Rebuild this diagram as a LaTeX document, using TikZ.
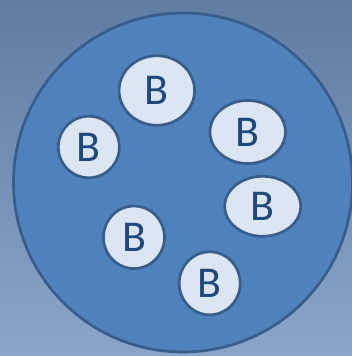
\documentclass[tikz,border=0pt]{standalone}
\usepackage{fontspec}
\setmainfont{Carlito}
\definecolor{bgtop}{HTML}{5F7CA3}
\definecolor{bgbot}{HTML}{8AA5C9}
\definecolor{cellfill}{HTML}{4F81BD}
\definecolor{cellline}{HTML}{385D8A}
\definecolor{bfill}{HTML}{DCE6F2}
\definecolor{btext}{HTML}{1F497D}
\tikzset{
  bac/.style={ellipse, draw=cellline, line width=2.7pt, fill=bfill, inner sep=0pt,
    text=btext, font=\fontsize{44}{44}\selectfont},
}
\usetikzlibrary{shapes.geometric}
\begin{document}
\begin{tikzpicture}[x=1pt,y=-1pt]
\shade[top color=bgtop, bottom color=bgbot] (0,0) rectangle (352,356);
\useasboundingbox (0,0) rectangle (352,356);
\node[circle, draw=cellline, line width=2.7pt, fill=cellfill, minimum size=339pt, inner sep=0pt] (cell) at (183,182.5) {};
\node[bac, minimum width=75.5pt, minimum height=69.5pt] (b1) at (156.8,90.5) {B};
\node[bac, minimum width=61pt, minimum height=61.5pt] (b2) at (88.8,147) {B};
\node[bac, minimum width=75.5pt, minimum height=63pt] (b3) at (247.7,132) {B};
\node[bac, minimum width=76pt, minimum height=60pt] (b4) at (262.7,206.3) {B};
\node[bac, minimum width=61pt, minimum height=62.5pt] (b5) at (134,237.3) {B};
\node[bac, minimum width=61pt, minimum height=63pt] (b6) at (209.7,283.3) {B};
\end{tikzpicture}
\end{document}
